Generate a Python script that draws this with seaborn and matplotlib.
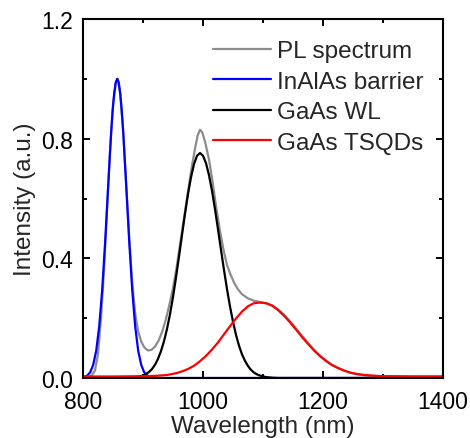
import matplotlib
matplotlib.use("Agg")
import matplotlib.pyplot as plt
from matplotlib.ticker import MultipleLocator
import seaborn as sns
import pandas as pd

# ---------------- data ----------------
pl_wl = [800, 810, 815, 820, 825, 830, 835, 840, 845, 850, 855, 858, 862, 867,
         872, 877, 882, 887, 892, 897, 902, 908, 914, 920, 926, 932, 938, 944,
         950, 956, 962, 968, 974, 980, 986, 991, 995, 999, 1004, 1010, 1016,
         1022, 1028, 1034, 1040, 1046, 1052, 1058, 1065, 1075, 1085, 1095,
         1105, 1115, 1125, 1135, 1145, 1155, 1165, 1175, 1185, 1195, 1205,
         1215, 1225, 1235, 1245, 1255, 1265, 1275, 1300, 1350, 1400]
pl_int = [0.000, 0.003, 0.010, 0.025, 0.080, 0.200, 0.360, 0.560, 0.760, 0.915,
          0.990, 1.000, 0.950, 0.822, 0.645, 0.470, 0.320, 0.215, 0.155, 0.122,
          0.103, 0.092, 0.094, 0.105, 0.125, 0.155, 0.195, 0.245, 0.300, 0.370,
          0.450, 0.530, 0.610, 0.690, 0.760, 0.810, 0.830, 0.820, 0.785, 0.730,
          0.655, 0.570, 0.495, 0.430, 0.378, 0.345, 0.318, 0.297, 0.280, 0.266,
          0.258, 0.254, 0.250, 0.243, 0.230, 0.212, 0.190, 0.166, 0.141, 0.117,
          0.095, 0.075, 0.058, 0.044, 0.034, 0.025, 0.018, 0.013, 0.010, 0.008,
          0.006, 0.005, 0.005]

barrier_wl = [800, 802, 807, 812, 817, 822, 827, 832, 837, 842, 847, 849.5,
              852, 854.5, 857, 859.5, 862, 864.5, 867, 872, 877, 882, 887, 892,
              897, 902, 907, 912, 917, 930, 1000, 1200, 1400]
barrier_int = [0.002, 0.003, 0.008, 0.019, 0.044, 0.091, 0.172, 0.295, 0.458,
               0.644, 0.823, 0.896, 0.952, 0.988, 1.000, 0.988, 0.952, 0.896,
               0.823, 0.644, 0.458, 0.295, 0.172, 0.091, 0.044, 0.019, 0.008,
               0.003, 0.001, 0.000, 0.000, 0.000, 0.000]

wl_wl = [800, 865, 875, 885, 890, 895, 900, 905, 910, 915, 920, 925, 930, 935,
         940, 945, 950, 955, 960, 965, 970, 975, 980, 985, 990, 995, 1000,
         1005, 1010, 1015, 1020, 1025, 1030, 1035, 1040, 1045, 1050, 1055,
         1060, 1065, 1070, 1075, 1080, 1085, 1090, 1095, 1105, 1115, 1125,
         1200, 1400]
wl_int = [0.000, 0.000, 0.001, 0.002, 0.003, 0.005, 0.008, 0.013, 0.020, 0.030,
          0.044, 0.064, 0.090, 0.123, 0.164, 0.213, 0.271, 0.336, 0.406, 0.478,
          0.549, 0.615, 0.671, 0.715, 0.743, 0.752, 0.743, 0.718, 0.678, 0.626,
          0.564, 0.497, 0.428, 0.361, 0.297, 0.239, 0.188, 0.144, 0.108, 0.079,
          0.057, 0.040, 0.027, 0.018, 0.012, 0.008, 0.003, 0.001, 0.000, 0.000,
          0.000]

qd_wl = [800, 850, 900, 920, 940, 955, 965, 975, 985, 995, 1005, 1015, 1025,
         1035, 1045, 1055, 1065, 1075, 1085, 1095, 1105, 1115, 1125, 1135,
         1145, 1155, 1165, 1175, 1185, 1195, 1205, 1215, 1225, 1235, 1245,
         1255, 1265, 1275, 1295, 1350, 1400]
qd_int = [0.005, 0.005, 0.006, 0.007, 0.010, 0.016, 0.022, 0.030, 0.041, 0.056,
          0.074, 0.095, 0.119, 0.146, 0.173, 0.199, 0.222, 0.240, 0.250, 0.252,
          0.250, 0.242, 0.227, 0.208, 0.186, 0.162, 0.137, 0.114, 0.092, 0.073,
          0.057, 0.043, 0.033, 0.025, 0.018, 0.014, 0.011, 0.009, 0.006, 0.005,
          0.005]

series_names = ["PL spectrum", "InAlAs barrier", "GaAs WL", "GaAs TSQDs"]
series_colors = ["#8c8c8c", "#0000ff", "#000000", "#ff0000"]

x_ticks = [800, 1000, 1200, 1400]
y_ticks = [0.0, 0.4, 0.8, 1.2]

# ---------------- plot ----------------
sns.set_theme(style="ticks")
plt.rcParams["font.family"] = ["Liberation Sans", "DejaVu Sans"]

fig = plt.figure(figsize=(4.70, 4.39), dpi=100)
ax = fig.add_axes([0.1766, 0.1367, 0.7660, 0.8177])

series = [(pl_wl, pl_int), (barrier_wl, barrier_int), (wl_wl, wl_int), (qd_wl, qd_int)]
for (xs, ys), name, col in zip(series, series_names, series_colors):
    df = pd.DataFrame({"Wavelength": xs, "Intensity": ys})
    sns.lineplot(data=df, x="Wavelength", y="Intensity", color=col, label=name,
                 linewidth=1.6, ax=ax, sort=True, estimator=None)

ax.set_xlim(800, 1400)
ax.set_ylim(0, 1.2)
ax.set_xticks(x_ticks)
ax.set_yticks(y_ticks)
ax.set_xticklabels([f"{v:d}" for v in x_ticks])
ax.set_yticklabels([f"{v:.1f}" for v in y_ticks])
ax.xaxis.set_minor_locator(MultipleLocator(100))
ax.yaxis.set_minor_locator(MultipleLocator(0.2))

ax.tick_params(which="both", direction="in", top=True, right=True,
               width=1.4, colors="black", labelsize=16.5)
ax.tick_params(which="major", length=5)
ax.tick_params(which="minor", length=3)
ax.tick_params(axis="y", which="major", pad=7)
ax.tick_params(axis="x", which="major", pad=9)

for sp in ax.spines.values():
    sp.set_linewidth(1.5)
    sp.set_color("black")

ax.set_xlabel("Wavelength (nm)", fontsize=17.5, labelpad=1)
ax.set_ylabel("Intensity (a.u.)", fontsize=17.5, labelpad=4)

leg = ax.legend(loc="upper right", frameon=False, fontsize=17.5,
                handlelength=2.4, handletextpad=0.25, labelspacing=0.35,
                borderpad=0.0, borderaxespad=0.0,
                bbox_to_anchor=(0.946, 0.941))
for line in leg.get_lines():
    line.set_linewidth(1.6)

fig.savefig("out.png", dpi=100)
